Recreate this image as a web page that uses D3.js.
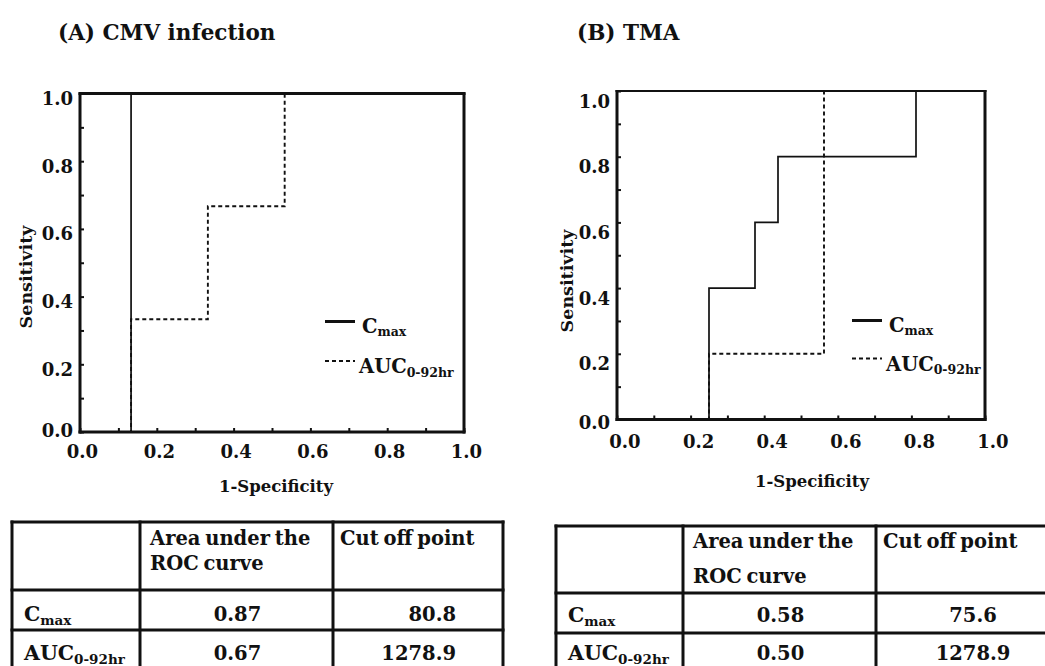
<!DOCTYPE html>
<html>
<head>
<meta charset="utf-8">
<script src="https://cdn.jsdelivr.net/npm/d3@7"></script>
<style>
  html, body { margin: 0; padding: 0; background: #fff; }
  svg { display: block; }
  text { font-family: "DejaVu Serif", "Liberation Serif", serif; font-weight: bold; fill: #111; }
</style>
</head>
<body>
<svg id="chart" width="1045" height="666"></svg>
<script>
// ROC curve points (1-Specificity, Sensitivity) for each panel
const cmvCmaxFpr = [0, 0.133, 0.133, 1.0];
const cmvCmaxTpr = [0, 0, 1.0, 1.0];
const cmvAucFpr  = [0, 0.133, 0.133, 0.333, 0.333, 0.533, 0.533, 1.0];
const cmvAucTpr  = [0, 0, 0.333, 0.333, 0.667, 0.667, 1.0, 1.0];

const tmaCmaxFpr = [0, 0.25, 0.25, 0.375, 0.375, 0.4375, 0.4375, 0.8125, 0.8125, 1.0];
const tmaCmaxTpr = [0, 0, 0.4, 0.4, 0.6, 0.6, 0.8, 0.8, 1.0, 1.0];
const tmaAucFpr  = [0, 0.25, 0.25, 0.5625, 0.5625, 1.0];
const tmaAucTpr  = [0, 0, 0.2, 0.2, 1.0, 1.0];

// axis ticks
const tickValues  = [0, 0.1, 0.2, 0.3, 0.4, 0.5, 0.6, 0.7, 0.8, 0.9, 1.0];
const labelValues = [0, 0.2, 0.4, 0.6, 0.8, 1.0];

// summary tables
const headerArea = ["Area under the", "ROC curve"];
const headerCut  = "Cut off point";
const rowLabels  = [{ base: "C", sub: "max" }, { base: "AUC", sub: "0-92hr" }];
const cmvAreas = ["0.87", "0.67"];
const cmvCuts  = ["80.8", "1278.9"];
const tmaAreas = ["0.58", "0.50"];
const tmaCuts  = ["75.6", "1278.9"];

const svg = d3.select("#chart");
const zip = (xs, ys) => xs.map((v, i) => [v, ys[i]]);

function drawPanel(cfg) {
  const x = d3.scaleLinear().domain([0, 1]).range([cfg.left, cfg.right]);
  const y = d3.scaleLinear().domain([0, 1]).range([cfg.bottom, cfg.top]);
  const g = svg.append("g");

  // panel title
  g.append("text").attr("x", cfg.titleX).attr("y", 40)
    .style("font-size", "21.5px").text(cfg.title);

  // inward ticks
  g.append("g").attr("transform", `translate(0,${cfg.bottom})`)
    .call(d3.axisBottom(x).tickValues(tickValues).tickSize(-4).tickFormat(""))
    .call(a => a.select(".domain").remove())
    .call(a => a.selectAll("line").attr("stroke", "#111").attr("stroke-width", 2));
  g.append("g").attr("transform", `translate(${cfg.left},0)`)
    .call(d3.axisLeft(y).tickValues(tickValues).tickSize(-4).tickFormat(""))
    .call(a => a.select(".domain").remove())
    .call(a => a.selectAll("line").attr("stroke", "#111").attr("stroke-width", 2));

  // tick labels
  g.append("g").selectAll("text").data(labelValues).join("text")
    .attr("x", d => x(d) + cfg.xLabelDx).attr("y", cfg.xLabelY)
    .attr("text-anchor", "middle").style("font-size", "18px")
    .text(d3.format(".1f"));
  g.append("g").selectAll("text").data(labelValues).join("text")
    .attr("x", cfg.left - 7)
    .attr("y", d => y(d) + (d === 0 ? cfg.yZeroDy : cfg.yLabelDy))
    .attr("text-anchor", "end").attr("dominant-baseline", "central")
    .style("font-size", "18px")
    .text(d3.format(".1f"));

  // axis titles
  g.append("text").attr("x", cfg.xTitleX).attr("y", cfg.xTitleY)
    .attr("text-anchor", "middle").style("font-size", "16.5px").text("1-Specificity");
  g.append("text")
    .attr("transform", `translate(${cfg.yTitleX},${cfg.yTitleY}) rotate(-90)`)
    .attr("text-anchor", "middle").style("font-size", "17.5px").text("Sensitivity");

  // curves
  const line = d3.line().x(d => x(d[0])).y(d => y(d[1]));
  g.append("path").datum(zip(cfg.aucFpr, cfg.aucTpr)).attr("d", line)
    .attr("fill", "none").attr("stroke", "#111").attr("stroke-width", 1.9)
    .attr("stroke-dasharray", "4,3");
  g.append("path").datum(zip(cfg.cmaxFpr, cfg.cmaxTpr)).attr("d", line)
    .attr("fill", "none").attr("stroke", "#111").attr("stroke-width", 1.7);

  // frame
  const fw = 3;
  g.append("line").attr("x1", cfg.left).attr("x2", cfg.left)
    .attr("y1", cfg.top - 1).attr("y2", cfg.bottom + 1.5).attr("stroke", "#111").attr("stroke-width", fw);
  g.append("line").attr("x1", cfg.right).attr("x2", cfg.right)
    .attr("y1", cfg.top - 1).attr("y2", cfg.bottom + 1.5).attr("stroke", "#111").attr("stroke-width", fw);
  g.append("line").attr("x1", cfg.left - 1.5).attr("x2", cfg.right + 1.5)
    .attr("y1", cfg.bottom).attr("y2", cfg.bottom).attr("stroke", "#111").attr("stroke-width", fw);
  g.append("line").attr("x1", cfg.left - 1.5).attr("x2", cfg.right + 1.5)
    .attr("y1", cfg.top).attr("y2", cfg.top).attr("stroke", "#111").attr("stroke-width", cfg.topWidth);

  // legend
  const lg = g.append("g");
  lg.append("line").attr("x1", cfg.legX).attr("x2", cfg.legX + 30)
    .attr("y1", cfg.legY1).attr("y2", cfg.legY1).attr("stroke", "#111").attr("stroke-width", 3);
  lg.append("line").attr("x1", cfg.legX).attr("x2", cfg.legX + 30)
    .attr("y1", cfg.legY2).attr("y2", cfg.legY2).attr("stroke", "#111").attr("stroke-width", 1.9)
    .attr("stroke-dasharray", "4,3");
  const t1 = lg.append("text").attr("x", cfg.legX + 37).attr("y", cfg.legY1 + 11.5).style("font-size", "19.5px");
  t1.append("tspan").text("C");
  t1.append("tspan").attr("dy", 3).style("font-size", "12.5px").text("max");
  const t2 = lg.append("text").attr("x", cfg.legX + 34).attr("y", cfg.legY2 + 12).style("font-size", "19.5px");
  t2.append("tspan").text("AUC");
  t2.append("tspan").attr("dy", 3.5).style("font-size", "12.5px").text("0-92hr");
}

function drawTable(cfg) {
  const g = svg.append("g");
  const cols = cfg.cols;   // x positions of vertical rules
  const rows = cfg.rows;   // y positions of horizontal rules
  rows.forEach(r => g.append("line").attr("x1", cols[0] - 1.5).attr("x2", cols[3] + 1.5)
    .attr("y1", r).attr("y2", r).attr("stroke", "#111").attr("stroke-width", 3));
  cols.forEach(c => g.append("line").attr("x1", c).attr("x2", c)
    .attr("y1", rows[0] - 1.5).attr("y2", rows[rows.length - 1] + 1.5)
    .attr("stroke", "#111").attr("stroke-width", 3));

  const fs = "19.5px";
  g.append("text").attr("x", cols[1] + 10).attr("y", cfg.headY1).style("font-size", fs)
    .style("word-spacing", "-2px").text(headerArea[0]);
  g.append("text").attr("x", cols[1] + 10).attr("y", cfg.headY2).style("font-size", fs)
    .style("word-spacing", "-2px").text(headerArea[1]);
  g.append("text").attr("x", cols[2] + 7).attr("y", cfg.headY1).style("font-size", fs)
    .style("word-spacing", "-2px").text(headerCut);

  rowLabels.forEach((lab, i) => {
    const t = g.append("text").attr("x", cols[0] + 12).attr("y", cfg.rowY[i]).style("font-size", "20.5px");
    t.append("tspan").text(lab.base);
    t.append("tspan").attr("dy", 4).style("font-size", "13.5px").text(lab.sub);
    g.append("text").attr("x", (cols[1] + cols[2]) / 2 + 1).attr("y", cfg.rowY[i])
      .attr("text-anchor", "middle").style("font-size", fs).text(cfg.areas[i]);
    g.append("text").attr("x", cfg.cutX).attr("y", cfg.rowY[i])
      .attr("text-anchor", cfg.cutAnchor).style("font-size", fs).text(cfg.cuts[i]);
  });
}

drawPanel({
  title: "(A) CMV infection", titleX: 58,
  left: 80, right: 464, top: 93.5, bottom: 432, topWidth: 3,
  xLabelDx: 2.5, xLabelY: 458, yLabelDy: 5, yZeroDy: -1.5,
  xTitleX: 276, xTitleY: 492, yTitleX: 32, yTitleY: 277,
  cmaxFpr: cmvCmaxFpr, cmaxTpr: cmvCmaxTpr, aucFpr: cmvAucFpr, aucTpr: cmvAucTpr,
  legX: 325, legY1: 321.5, legY2: 361
});

drawPanel({
  title: "(B) TMA", titleX: 577,
  left: 617, right: 985, top: 91, bottom: 419.5, topWidth: 2,
  xLabelDx: 8, xLabelY: 448, yLabelDy: 10, yZeroDy: 3,
  xTitleX: 812, xTitleY: 487, yTitleX: 573, yTitleY: 281,
  cmaxFpr: tmaCmaxFpr, cmaxTpr: tmaCmaxTpr, aucFpr: tmaAucFpr, aucTpr: tmaAucTpr,
  legX: 852, legY1: 320.5, legY2: 358.5
});

drawTable({
  cols: [12, 140, 333, 503], rows: [522, 590, 630, 670],
  headY1: 545, headY2: 570, rowY: [621, 660],
  areas: cmvAreas, cuts: cmvCuts, cutX: 456, cutAnchor: "end"
});

drawTable({
  cols: [556, 683, 876, 1070], rows: [526, 593, 633, 673],
  headY1: 548, headY2: 583, rowY: [622, 660],
  areas: tmaAreas, cuts: tmaCuts, cutX: 973, cutAnchor: "middle"
});
</script>
</body>
</html>
